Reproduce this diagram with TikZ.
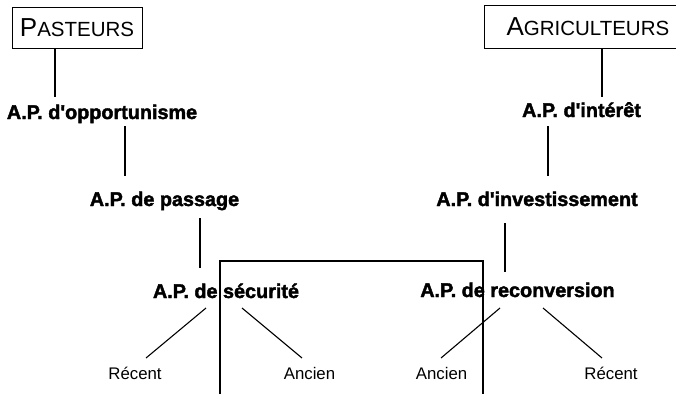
\documentclass[tikz,border=0pt]{standalone}
\usepackage{fontspec}
\setmainfont{Liberation Sans}
\newfontfamily\heavyfont{Liberation Sans}[FakeBold=2, BoldFont={Liberation Sans Bold}, BoldFeatures={FakeBold=2}]
\usetikzlibrary{calc}
\tikzset{
  lbl/.style={anchor=base, inner sep=0pt, font=\heavyfont\bfseries\fontsize{19.8}{23}\selectfont},
  leaf/.style={anchor=base, inner sep=0pt, font=\fontsize{16.8}{19}\selectfont},
  frame/.style={draw, line width=1pt},
  conn/.style={line width=1.1pt},
}
\newcommand{\capsc}[2]{{\fontsize{26}{28}\selectfont #1}{\fontsize{20.5}{24}\selectfont #2}}
\begin{document}
\begin{tikzpicture}[x=1pt,y=-1pt]
\useasboundingbox (0,0) rectangle (676,394);
\clip (0,0) rectangle (676,394);
% group boxes
\node[frame, minimum width=130pt, minimum height=41pt, inner sep=0pt] (past) at (77,27.5) {\capsc{P}{ASTEURS}};
\node[frame, anchor=west, text width=200pt, align=left, inner xsep=22pt, inner ysep=0pt, minimum height=43pt] (agri) at (484,26.5) {\capsc{A}{GRICULTEURS}};
% left chain
\node[lbl] (opp) at (102,119) {A.P. d'opportunisme};
\node[lbl] (pas) at (164.5,206) {A.P. de passage};
\node[lbl] (sec) at (226,298) {A.P. de sécurité};
\node[leaf] (recL) at (135,379) {Récent};
\node[leaf] (ancL) at (309.5,379) {Ancien};
% right chain
\node[lbl] (int) at (581.5,117) {A.P. d'intérêt};
\node[lbl] (inv) at (537,206) {A.P. d'investissement};
\node[lbl] (rec) at (517.5,297) {A.P. de reconversion};
\node[leaf] (ancR) at (441.5,379) {Ancien};
\node[leaf] (recR) at (611,379) {Récent};
% connectors left
\draw[conn] (past.south -| 55,0) -- ($(opp.base)+(-47,-22)$);
\draw[conn] ($(opp.base)+(23,7)$) -- ($(pas.base)+(-39.5,-30)$);
\draw[conn] ($(pas.base)+(35.5,12)$) -- ($(sec.base)+(-26,-30)$);
\draw[conn] ($(sec.base)+(-20,10)$) -- ($(recL.base)+(11,-21)$);
\draw[conn] ($(sec.base)+(16,10)$) -- ($(ancL.base)+(-7.5,-21)$);
% connectors right
\draw[conn] (agri.south -| 602,0) -- ($(int.base)+(20.5,-20)$);
\draw[conn] ($(int.base)+(-33.5,9)$) -- ($(inv.base)+(11,-30)$);
\draw[conn] ($(inv.base)+(-32,17)$) -- ($(rec.base)+(-12.5,-25)$);
\draw[conn] ($(rec.base)+(-17.5,11)$) -- ($(ancR.base)+(-0.5,-21)$);
\draw[conn] ($(rec.base)+(25.5,11)$) -- ($(recR.base)+(-9,-21)$);
% open frame
\draw[conn] (220,394) -- (220,261) -- (483,261) -- (483,394);
\end{tikzpicture}
\end{document}
